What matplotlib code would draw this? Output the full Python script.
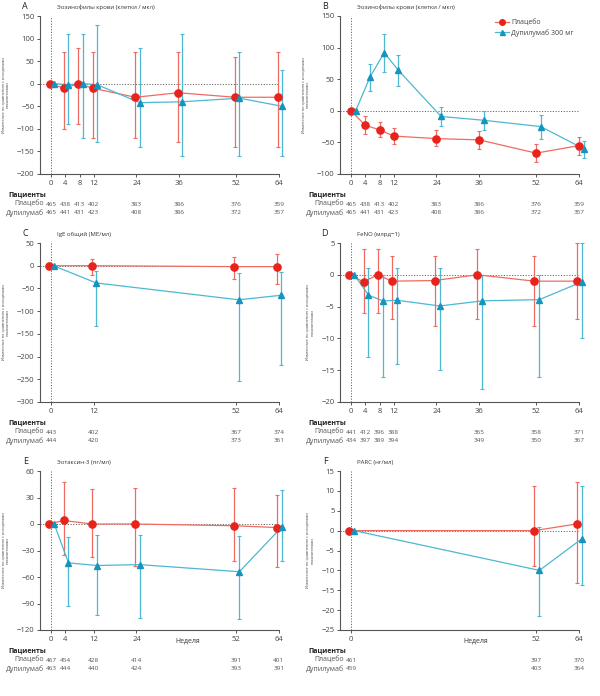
import numpy as np
import matplotlib
matplotlib.use("Agg")
import matplotlib.pyplot as plt
from matplotlib.lines import Line2D

plt.rcParams["font.family"] = ["Open Sans", "DejaVu Sans"]

RED_M = "#e8231c"
RED_L = "#ef6b61"
BLUE_M = "#1794bd"
BLUE_L = "#4cb8d2"
AX_C = "#555555"

# ---- data -------------------------------------------------------------
weeks_ab = [0, 4, 8, 12, 24, 36, 52, 64]
a_pla = [0, -10, 0, -10, -30, -20, -30, -30]
a_pla_lo = [0, -100, -90, -120, -120, -130, -140, -140]
a_pla_hi = [0, 70, 80, 70, 70, 70, 60, 70]
a_dup = [0, -2, 0, -2, -42, -40, -32, -50]
a_dup_lo = [0, -90, -120, -130, -140, -160, -160, -160]
a_dup_hi = [0, 110, 110, 130, 80, 110, 70, 30]

b_pla = [0, -23, -30, -40, -44, -46, -67, -55]
b_pla_lo = [0, -37, -42, -53, -56, -60, -81, -70]
b_pla_hi = [0, -8, -17, -27, -31, -32, -53, -41]
b_dup = [0, 53, 92, 64, -9, -15, -25, -60]
b_dup_lo = [0, 31, 62, 39, -24, -31, -44, -74]
b_dup_hi = [0, 74, 122, 88, 6, 0, -6, -47]

ab_n_pla = [465, 438, 413, 402, 383, 386, 376, 359]
ab_n_dup = [465, 441, 431, 423, 408, 386, 372, 357]

weeks_c = [0, 12, 52, 64]
c_pla = [0, 0, -2, -2]
c_pla_lo = [0, -20, -30, -40]
c_pla_hi = [0, 15, 19, 26]
c_dup = [0, -38, -75, -65]
c_dup_lo = [0, -132, -253, -218]
c_dup_hi = [0, -11, -17, -14]
c_n_pla = [443, 402, 367, 374]
c_n_dup = [444, 420, 373, 361]

weeks_d = [0, 4, 8, 12, 24, 36, 52, 64]
d_pla = [0, -1.1, 0, -1, -0.9, 0, -1, -1]
d_pla_lo = [0, -6, -6, -7, -8, -7, -8, -7]
d_pla_hi = [0, 4, 4, 3, 3, 4, 3, 5]
d_dup = [0, -3.2, -4.1, -4, -4.9, -4.1, -3.9, -1.1]
d_dup_lo = [0, -13, -16, -14, -15, -18, -16, -10]
d_dup_hi = [0, 1, 0, 1, 1, 0, 0, 5]
d_n_weeks = [0, 4, 8, 12, 36, 52, 64]
d_n_pla = [441, 412, 396, 388, 365, 358, 371]
d_n_dup = [434, 397, 389, 394, 349, 350, 367]

weeks_e = [0, 4, 12, 24, 52, 64]
e_pla = [0, 4, 0, 0, -2, -4]
e_pla_lo = [0, -35, -37, -47, -42, -49]
e_pla_hi = [0, 47, 40, 41, 41, 33]
e_dup = [0, -44, -47, -46, -54, -3]
e_dup_lo = [0, -93, -103, -106, -107, -42]
e_dup_hi = [0, -15, -13, -12, -14, 38]
e_n_pla = [467, 454, 428, 414, 391, 401]
e_n_dup = [463, 444, 440, 424, 393, 391]

weeks_f = [0, 52, 64]
f_pla = [0, 0, 1.7]
f_pla_lo = [0, -9, -13.3]
f_pla_hi = [0, 11.2, 12.2]
f_dup = [0, -10, -2]
f_dup_lo = [0, -21.5, -13.6]
f_dup_hi = [0, 1, 11.3]
f_n_pla = [461, 397, 370]
f_n_dup = [459, 403, 364]

YLABEL = "Изменение по сравнению с исходными\nпоказателями"

fig = plt.figure(figsize=(6.0, 6.96), dpi=100)
W, H = 600, 696


def ax_at(x0, y0, x1, y1):
    return fig.add_axes([x0 / W, 1 - y1 / H, (x1 - x0) / W, (y1 - y0) / H])


def series(ax, weeks, vals, lo, hi, color_m, color_l, marker, ms, shift, label):
    x = np.array(weeks, dtype=float) + shift
    v = np.array(vals, dtype=float)
    err = [v - np.array(lo), np.array(hi) - v]
    eb = ax.errorbar(x, v, yerr=err, fmt="none", ecolor=color_l, elinewidth=0.9,
                     capsize=1.6, capthick=0.8, zorder=2)
    for art in eb.lines[1] + eb.lines[2]:
        art.set_clip_on(False)
    ax.plot(x, v, color=color_l, lw=0.9, zorder=3, clip_on=False)
    ax.plot(x, v, ls="none", marker=marker, ms=ms, color=color_m,
            mec=color_m, zorder=4, label=label, clip_on=False)


def panel(rect, letter, title, weeks, pla, dup, ylim, ystep, xticks,
          n_weeks, n_pla, n_dup, shift_p=-0.3, shift_d=0.9, week_label=None):
    ax = ax_at(*rect)
    series(ax, weeks, pla[0], pla[1], pla[2], RED_M, RED_L, "o", 5.2, shift_p, "Плацебо")
    series(ax, weeks, dup[0], dup[1], dup[2], BLUE_M, BLUE_L, "^", 4.6, shift_d,
           "Дупилумаб 300 мг")
    ax.axhline(0, color="#666666", lw=0.7, ls=(0, (1.2, 1.6)), zorder=1)
    ax.axvline(0, color="#666666", lw=0.7, ls=(0, (1.2, 1.6)), zorder=1)
    ax.set_xlim(-3.1, 64.3)
    ax.set_ylim(*ylim)
    ax.set_yticks(np.arange(ylim[0], ylim[1] + ystep / 2, ystep))
    ax.set_xticks(xticks)
    for s in ("top", "right"):
        ax.spines[s].set_visible(False)
    for s in ("left", "bottom"):
        ax.spines[s].set_color(AX_C)
        ax.spines[s].set_linewidth(0.8)
    ax.spines["bottom"].set_bounds(-3.1, 64)
    ax.tick_params(colors=AX_C, labelcolor="#444444", labelsize=5.5,
                   length=2.5, width=0.7, pad=1.5)
    ax.set_ylabel(YLABEL, fontsize=2.8, color="#444444", labelpad=5,
                  linespacing=1.1)
    ax.text(-0.05, 1.06, letter, transform=ax.transAxes, fontsize=6.5,
            color="#222222", va="center", ha="right")
    ax.text(0.07, 1.04, title, transform=ax.transAxes, fontsize=4.3,
            color="#333333", va="bottom", ha="left")
    tr = ax.get_xaxis_transform()
    ax.text(-0.13, -0.135, "Пациенты", transform=ax.transAxes, fontsize=5,
            fontweight="bold", color="#222222", va="center", ha="left")
    ax.text(0.018, -0.19, "Плацебо", transform=ax.transAxes, fontsize=5,
            color="#555555", va="center", ha="right")
    ax.text(0.018, -0.245, "Дупилумаб", transform=ax.transAxes, fontsize=5,
            color="#555555", va="center", ha="right")
    for w, a, b in zip(n_weeks, n_pla, n_dup):
        ax.text(w, -0.19, str(a), transform=tr, fontsize=4.6, color="#555555",
                va="center", ha="center")
        ax.text(w, -0.245, str(b), transform=tr, fontsize=4.6, color="#555555",
                va="center", ha="center")
    if week_label is not None:
        ax.text(week_label, -0.05, "Неделя", transform=tr, fontsize=5,
                color="#333333", va="top", ha="center")
    return ax


title_eos = "Эозинофилы крови (клетки / мкл)"

panel((40, 16, 280, 174), "A", title_eos, weeks_ab,
      (a_pla, a_pla_lo, a_pla_hi), (a_dup, a_dup_lo, a_dup_hi),
      (-200, 150), 50, weeks_ab, weeks_ab, ab_n_pla, ab_n_dup)

ax_b = panel((340, 16, 580, 174), "B", title_eos, weeks_ab,
             (b_pla, b_pla_lo, b_pla_hi), (b_dup, b_dup_lo, b_dup_hi),
             (-100, 150), 50, weeks_ab, weeks_ab, ab_n_pla, ab_n_dup,
             shift_p=0.0, shift_d=1.3)
leg_h = [Line2D([], [], color=RED_L, lw=0.9, marker="o", ms=4, mfc=RED_M, mec=RED_M),
         Line2D([], [], color=BLUE_L, lw=0.9, marker="^", ms=3.6, mfc=BLUE_M, mec=BLUE_M)]
ax_b.legend(leg_h, ["Плацебо", "Дупилумаб 300 мг"], loc="upper right",
            bbox_to_anchor=(1.0, 1.02), frameon=False, fontsize=5,
            handlelength=2.0, handletextpad=0.3, labelspacing=0.4,
            labelcolor="#444444")

panel((40, 243, 280, 402), "C", "IgE общий (МЕ/мл)", weeks_c,
      (c_pla, c_pla_lo, c_pla_hi), (c_dup, c_dup_lo, c_dup_hi),
      (-300, 50), 50, weeks_c, weeks_c, c_n_pla, c_n_dup,
      shift_p=-0.5, shift_d=0.7)

panel((340, 243, 580, 402), "D", "FeNO (млрд−1)", weeks_d,
      (d_pla, d_pla_lo, d_pla_hi), (d_dup, d_dup_lo, d_dup_hi),
      (-20, 5), 5, weeks_d, d_n_weeks, d_n_pla, d_n_dup,
      shift_p=-0.5, shift_d=0.9)

panel((40, 471, 280, 630), "E", "Эотаксин-3 (пг/мл)", weeks_e,
      (e_pla, e_pla_lo, e_pla_hi), (e_dup, e_dup_lo, e_dup_hi),
      (-120, 60), 30, weeks_e, weeks_e, e_n_pla, e_n_dup,
      shift_p=-0.5, shift_d=0.9, week_label=38.5)

panel((340, 471, 580, 630), "F", "PARC (нг/мл)", weeks_f,
      (f_pla, f_pla_lo, f_pla_hi), (f_dup, f_dup_lo, f_dup_hi),
      (-25, 15), 5, weeks_f, weeks_f, f_n_pla, f_n_dup,
      shift_p=-0.5, shift_d=0.9, week_label=35)

fig.savefig("out.png", dpi=100, facecolor="white")
